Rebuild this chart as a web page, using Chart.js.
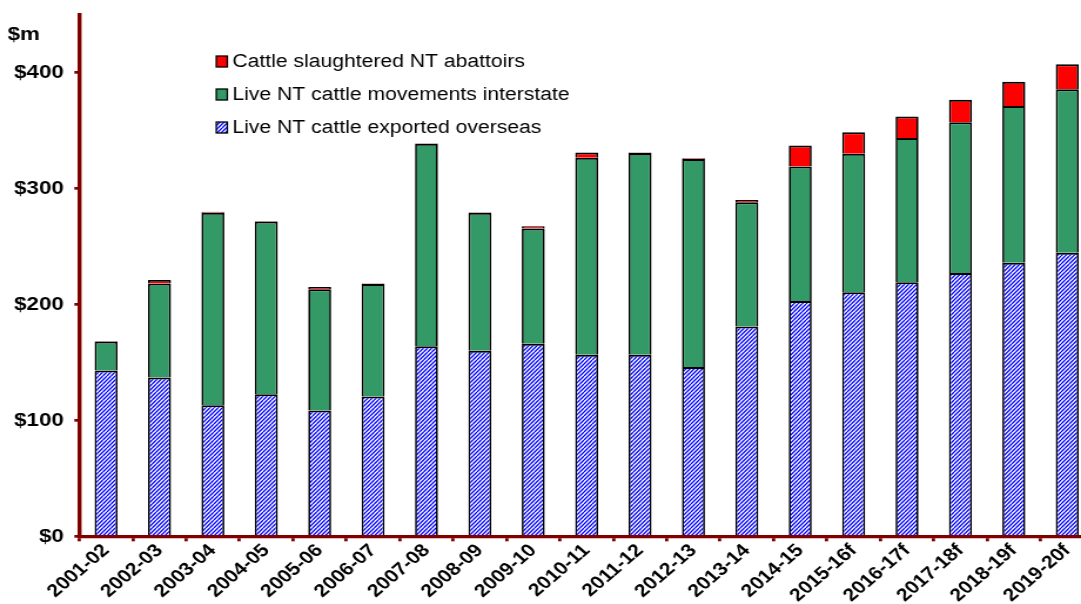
<!DOCTYPE html>
<html>
<head>
<meta charset="utf-8">
<title>NT cattle value</title>
<script src="https://cdn.jsdelivr.net/npm/chart.js@4.4.0/dist/chart.umd.min.js"></script>
<style>
  html, body { margin: 0; padding: 0; background: #fff; overflow: hidden; width: 1081px; height: 604px; }
  /* the chart is laid out on a narrower canvas and widened horizontally */
  #wrap { position: absolute; left: 0; top: 0; transform: scaleX(1.175); transform-origin: 0 0; }
  canvas { display: block; }
</style>
</head>
<body>
<div id="wrap"><canvas id="chart" width="931" height="604" style="width:931px;height:604px"></canvas></div>
<script>
// Value of NT cattle turnoff, $m
const seasons = ['2001-02', '2002-03', '2003-04', '2004-05', '2005-06', '2006-07', '2007-08',
  '2008-09', '2009-10', '2010-11', '2011-12', '2012-13', '2013-14', '2014-15',
  '2015-16f', '2016-17f', '2017-18f', '2018-19f', '2019-20f'];
const exportedOverseas = [143, 137, 113, 122.5, 108.5, 120.5, 164, 160, 166, 156.5,
  156.5, 146, 181, 203, 210.5, 219, 227, 236, 244.5];
const interstateMovements = [25, 81, 166, 149, 104.5, 97, 174.5, 119, 99.5, 170,
  174, 179.5, 107, 116, 119.5, 124.5, 130, 135, 141];
const slaughteredNT = [0.5, 3, 0.8, 0.5, 2, 0.5, 0.5, 0.5, 2, 4.5,
  0.5, 0.5, 2, 18, 18.5, 18.5, 19.5, 21, 21.5];
const valueTicks = [0, 100, 200, 300, 400];
const valueMax = 450;

const FONT = '"Liberation Sans", Arial, Helvetica, sans-serif';
const AXIS = '#800000';

// blue diagonal hatch on white
function hatch() {
  const w = 7, h = 8;
  const c = document.createElement('canvas');
  c.width = w; c.height = h;
  const g = c.getContext('2d');
  g.fillStyle = '#fff';
  g.fillRect(0, 0, w, h);
  g.strokeStyle = '#0000FF';
  g.lineWidth = 1.3;
  for (const x0 of [-7, -3.5, 0, 3.5, 7]) {
    g.beginPath();
    g.moveTo(x0, h);
    g.lineTo(x0 + w, 0);
    g.stroke();
  }
  return g.createPattern(c, 'repeat');
}

const barBorder = { top: 2, left: 1.7, right: 1.7, bottom: 0 };

// unit caption and in-plot legend
const overlay = {
  id: 'overlay',
  afterDraw(chart) {
    const { ctx, chartArea, scales } = chart;
    ctx.save();
    ctx.fillStyle = '#000';
    ctx.textBaseline = 'middle';
    ctx.textAlign = 'left';
    ctx.font = 'bold 19px ' + FONT;
    ctx.fillText('$m', scales.y.left + 3.5, chartArea.top + 20);

    ctx.font = '18px ' + FONT;
    const items = chart.data.datasets.slice().reverse();
    items.forEach((ds, i) => {
      const y = chartArea.top + 47 + i * 33;
      const x = chartArea.left + 116.5;
      ctx.fillStyle = ds.backgroundColor;
      ctx.fillRect(x, y - 5.5, 9.4, 11);
      ctx.lineWidth = 1.3;
      ctx.strokeStyle = '#000';
      ctx.strokeRect(x, y - 5.5, 9.4, 11);
      ctx.fillStyle = '#000';
      ctx.fillText(ds.label, x + 13.6, y + 1);
    });
    ctx.restore();
  }
};

new Chart(document.getElementById('chart'), {
  type: 'bar',
  data: {
    labels: seasons,
    datasets: [
      { label: 'Live NT cattle exported overseas', data: exportedOverseas, backgroundColor: hatch() },
      { label: 'Live NT cattle movements interstate', data: interstateMovements, backgroundColor: '#339966' },
      { label: 'Cattle slaughtered NT abattoirs', data: slaughteredNT, backgroundColor: '#FF0000' }
    ]
  },
  options: {
    responsive: false,
    devicePixelRatio: 1,
    animation: false,
    layout: { padding: { left: 3, top: 0, right: 0, bottom: -1 } },
    datasets: {
      bar: {
        borderColor: '#000',
        borderWidth: barBorder,
        borderSkipped: false,
        categoryPercentage: 1,
        barPercentage: 0.43
      }
    },
    plugins: {
      legend: { display: false },
      tooltip: { enabled: false }
    },
    scales: {
      x: {
        stacked: true,
        grid: { display: true, drawOnChartArea: false, drawTicks: true, tickLength: 5, lineWidth: 2.8, color: AXIS, offset: true },
        border: { display: true, color: AXIS, width: 3.2 },
        ticks: {
          autoSkip: false, minRotation: 45, maxRotation: 45, padding: 0,
          color: '#000', font: { family: FONT, size: 18, weight: 'bold', lineHeight: 1 }
        }
      },
      y: {
        stacked: true,
        min: 0,
        max: valueMax,
        afterBuildTicks(scale) {
          scale.ticks = valueTicks.map(v => ({ value: v }));
        },
        grid: { display: true, drawOnChartArea: false, drawTicks: true, tickLength: 4.3, lineWidth: 2.7, color: AXIS },
        border: { display: true, color: AXIS, width: 3.4 },
        ticks: {
          padding: 9, color: '#000',
          font: { family: FONT, size: 19, weight: 'bold', lineHeight: 0.58 },
          callback: v => '$' + v
        }
      }
    }
  },
  plugins: [overlay]
});
</script>
</body>
</html>
